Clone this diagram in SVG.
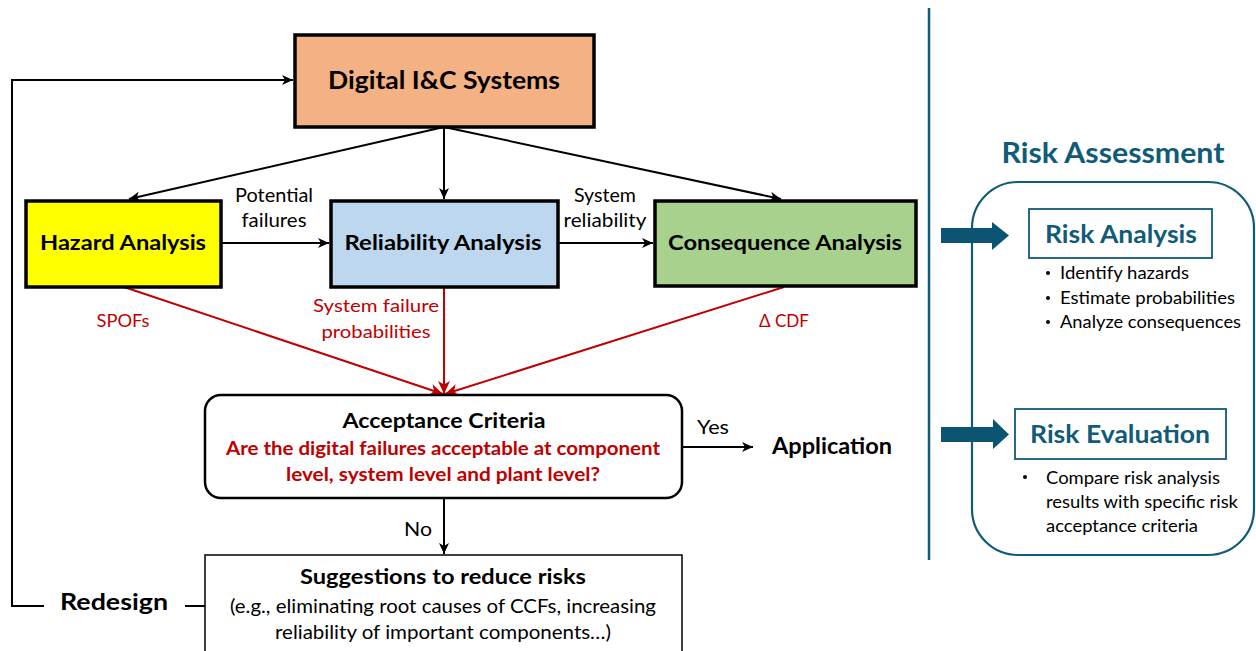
<svg xmlns="http://www.w3.org/2000/svg" width="1256" height="651" viewBox="0 0 1256 651">
<style>
text{font-family:Lato,"Open Sans","Liberation Sans",sans-serif;text-anchor:middle}
.b{font-weight:bold}
.red{fill:#C00000}
.teal{fill:#0F5B78}
.box{stroke:#000;stroke-width:3.5}
.k{stroke:#000;stroke-width:2;fill:none}
.r{stroke:#C00000;stroke-width:2;fill:none}
.l{text-anchor:start}
</style>
<defs>
<marker id="ak" markerUnits="userSpaceOnUse" markerWidth="12" markerHeight="10" refX="11" refY="5" orient="auto"><path d="M0,0 L11,5 L0,10 L3,5 Z" fill="#000"/></marker>
<marker id="ar" markerUnits="userSpaceOnUse" markerWidth="14" markerHeight="12" refX="13" refY="6" orient="auto"><path d="M0,0 L13,6 L0,12 L3.5,6 Z" fill="#C00000"/></marker>
</defs>
<rect width="1256" height="651" fill="#fff"/>

<g id="connectors">
<line class="k" x1="444" y1="127" x2="129" y2="199" marker-end="url(#ak)"/>
<line class="k" x1="444" y1="127" x2="444" y2="199" marker-end="url(#ak)"/>
<line class="k" x1="444" y1="127" x2="781" y2="199" marker-end="url(#ak)"/>
<line class="k" x1="221" y1="243" x2="329" y2="243" marker-end="url(#ak)"/>
<line class="k" x1="558" y1="243" x2="653" y2="243" marker-end="url(#ak)"/>
<line class="r" x1="124" y1="287" x2="443" y2="394" marker-end="url(#ar)"/>
<line class="r" x1="444" y1="287" x2="444" y2="394" marker-end="url(#ar)"/>
<line class="r" x1="784" y1="287" x2="445" y2="394" marker-end="url(#ar)"/>
<line class="k" x1="682" y1="447" x2="753" y2="447" marker-end="url(#ak)"/>
<line class="k" x1="444" y1="498" x2="444" y2="554" marker-end="url(#ak)"/>
<polyline class="k" points="44,606 12,606 12,80 293,80" marker-end="url(#ak)"/>
<line class="k" x1="185" y1="606" x2="205" y2="606"/>
<text x="274" y="202" font-size="19" textLength="78" lengthAdjust="spacingAndGlyphs">Potential</text>
<text x="274" y="227" font-size="19" textLength="65" lengthAdjust="spacingAndGlyphs">failures</text>
<text x="605" y="202" font-size="19" textLength="62" lengthAdjust="spacingAndGlyphs">System</text>
<text x="605" y="227" font-size="19" textLength="83" lengthAdjust="spacingAndGlyphs">reliability</text>
<text class="red" x="123" y="327" font-size="18" textLength="53" lengthAdjust="spacingAndGlyphs">SPOFs</text>
<text class="red" x="376" y="312" font-size="18" textLength="126" lengthAdjust="spacingAndGlyphs">System failure</text>
<text class="red" x="376" y="338" font-size="18" textLength="109" lengthAdjust="spacingAndGlyphs">probabilities</text>
<text class="red" x="784" y="327" font-size="18" textLength="50" lengthAdjust="spacingAndGlyphs">Δ CDF</text>
<text x="713" y="434" font-size="19" textLength="32" lengthAdjust="spacingAndGlyphs">Yes</text>
<text x="418" y="536" font-size="19" textLength="28" lengthAdjust="spacingAndGlyphs">No</text>
</g>

<g id="digital">
<rect class="box" x="295" y="35" width="299" height="92" fill="#F4B183"/>
<text class="b" x="444" y="89" font-size="25" textLength="232" lengthAdjust="spacingAndGlyphs">Digital I&amp;C Systems</text>
</g>
<g id="hazard">
<rect class="box" x="26" y="201" width="195" height="86" fill="#FFFF00"/>
<text class="b" x="123" y="250" font-size="21" textLength="166" lengthAdjust="spacingAndGlyphs">Hazard Analysis</text>
</g>
<g id="reliability">
<rect class="box" x="331" y="201" width="227" height="86" fill="#BDD7EE"/>
<text class="b" x="443" y="250" font-size="21" textLength="197" lengthAdjust="spacingAndGlyphs">Reliability Analysis</text>
</g>
<g id="consequence">
<rect class="box" x="655" y="201" width="261" height="85" fill="#A9D18E"/>
<text class="b" x="785" y="250" font-size="21" textLength="234" lengthAdjust="spacingAndGlyphs">Consequence Analysis</text>
</g>
<g id="acceptance">
<rect x="205" y="395" width="477" height="103" rx="16" fill="#fff" stroke="#000" stroke-width="2.5"/>
<text class="b" x="444" y="428" font-size="20" textLength="203" lengthAdjust="spacingAndGlyphs">Acceptance Criteria</text>
<text class="b red" x="443" y="455" font-size="19" textLength="434" lengthAdjust="spacingAndGlyphs">Are the digital failures acceptable at component</text>
<text class="b red" x="443" y="481" font-size="19" textLength="314" lengthAdjust="spacingAndGlyphs">level, system level and plant level?</text>
</g>
<g id="application">
<text class="b" x="832" y="454" font-size="23" textLength="120" lengthAdjust="spacingAndGlyphs">Application</text>
</g>
<g id="suggestions">
<rect x="205" y="555" width="477" height="110" fill="#fff" stroke="#000" stroke-width="1.5"/>
<text class="b" x="443" y="584" font-size="20" textLength="286" lengthAdjust="spacingAndGlyphs">Suggestions to reduce risks</text>
<text x="443" y="613" font-size="19" textLength="426" lengthAdjust="spacingAndGlyphs">(e.g., eliminating root causes of CCFs, increasing</text>
<text x="443" y="639" font-size="19" textLength="336" lengthAdjust="spacingAndGlyphs">reliability of important components…)</text>
</g>
<g id="redesign">
<text class="b" x="114" y="610" font-size="23" textLength="108" lengthAdjust="spacingAndGlyphs">Redesign</text>
</g>

<g id="divider">
<line x1="929" y1="8" x2="929" y2="560" stroke="#0F5B78" stroke-width="2.5"/>
</g>
<g id="risk-assessment">
<text class="b teal" x="1113" y="163" font-size="28" textLength="223" lengthAdjust="spacingAndGlyphs">Risk Assessment</text>
<rect x="972" y="182" width="282" height="373" rx="46" fill="none" stroke="#0F5B78" stroke-width="2.2"/>
</g>
<g id="arrow-analysis">
<path d="M941,228 H992 V222 L1009,235.5 L992,250 V243 H941 Z" fill="#0B5572"/>
</g>
<g id="risk-analysis">
<rect x="1029" y="209" width="183" height="49" fill="#fff" stroke="#0F5B78" stroke-width="1.8"/>
<text class="b teal" x="1121" y="243" font-size="24" textLength="152" lengthAdjust="spacingAndGlyphs">Risk Analysis</text>
<circle cx="1048" cy="273" r="2"/>
<circle cx="1048" cy="298" r="2"/>
<circle cx="1048" cy="322" r="2"/>
<text class="l" x="1060" y="279" font-size="17" textLength="129" lengthAdjust="spacingAndGlyphs">Identify hazards</text>
<text class="l" x="1060" y="304" font-size="17" textLength="175" lengthAdjust="spacingAndGlyphs">Estimate probabilities</text>
<text class="l" x="1060" y="328" font-size="17" textLength="181" lengthAdjust="spacingAndGlyphs">Analyze consequences</text>
</g>
<g id="arrow-evaluation">
<path d="M941,427 H993 V419 L1009,434.5 L993,449 V442 H941 Z" fill="#0B5572"/>
</g>
<g id="risk-evaluation">
<rect x="1015" y="409" width="211" height="50" fill="#fff" stroke="#0F5B78" stroke-width="1.8"/>
<text class="b teal" x="1120" y="443" font-size="24" textLength="180" lengthAdjust="spacingAndGlyphs">Risk Evaluation</text>
<circle cx="1025" cy="477" r="2"/>
<text class="l" x="1046" y="484" font-size="17" textLength="174" lengthAdjust="spacingAndGlyphs">Compare risk analysis</text>
<text class="l" x="1046" y="508" font-size="17" textLength="192" lengthAdjust="spacingAndGlyphs">results with specific risk</text>
<text class="l" x="1046" y="532" font-size="17" textLength="152" lengthAdjust="spacingAndGlyphs">acceptance criteria</text>
</g>
</svg>
